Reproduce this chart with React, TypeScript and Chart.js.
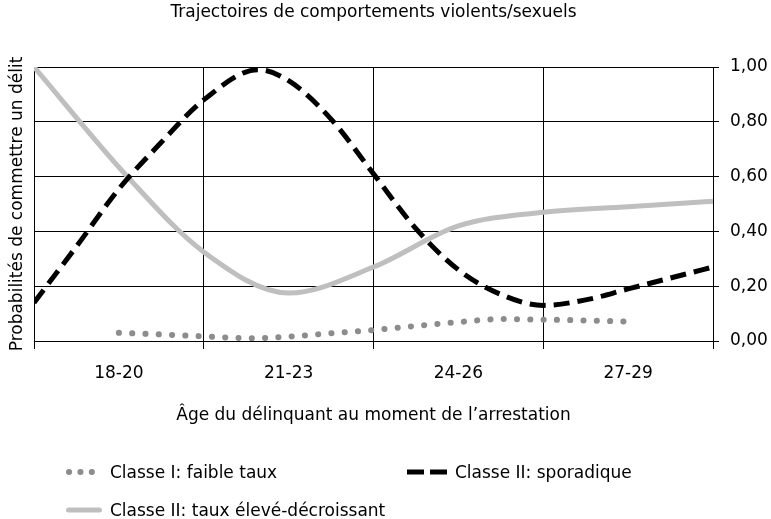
import React, { useEffect, useRef } from "react";
import { Chart, registerables } from "chart.js";

Chart.register(...registerables);

const FONT = '"DejaVu Sans", sans-serif';

const chartTitle = "Trajectoires de comportements violents/sexuels";
const xAxisTitle = "Âge du délinquant au moment de l’arrestation";
const yAxisTitle = "Probabilités de commettre un délit";
const ageGroups = ["18-20", "21-23", "24-26", "27-29"];
const yTickValues = [0, 0.2, 0.4, 0.6, 0.8, 1.0];
const seriesNames = [
  "Classe I: faible taux",
  "Classe II: sporadique",
  "Classe II: taux élevé-décroissant",
];

// positions along the age axis in age-group units (0 = start of 18-20, 4 = end of 27-29)
const faibleAt = [0.5, 0.75, 1.0, 1.28, 1.5, 1.75, 2.0, 2.25, 2.5, 2.75, 3.0, 3.25, 3.5];
const faibleTaux = [0.03, 0.024, 0.017, 0.01, 0.016, 0.028, 0.04, 0.055, 0.069, 0.08, 0.078, 0.075, 0.071];

const sporadiqueAt = [0, 0.25, 0.5, 0.75, 1.0, 1.32, 1.5, 1.75, 2.0, 2.25, 2.5, 2.75, 3.0, 3.25, 3.5, 3.75, 4.0];
const sporadique = [0.14, 0.345, 0.555, 0.725, 0.88, 0.99, 0.95, 0.81, 0.61, 0.41, 0.26, 0.17, 0.13, 0.15, 0.19, 0.23, 0.27];

const eleveAt = [0, 0.55, 1.0, 1.5, 2.0, 2.5, 3.0, 3.5, 4.0];
const eleveDecroissant = [1.0, 0.6, 0.325, 0.175, 0.27, 0.42, 0.47, 0.49, 0.51];

const toPoints = (xs: number[], ys: number[]) => xs.map((x, i) => ({ x, y: ys[i] }));

function LegendSymbol({ kind }: { kind: string }) {
  if (kind === "dots") {
    return (
      <svg width={40} height={20} style={{ display: "block" }}>
        <line x1={3} y1={10} x2={37} y2={10} stroke="#8c8c8c" strokeWidth={6} strokeLinecap="round" strokeDasharray="0.1 11.3" />
      </svg>
    );
  }
  if (kind === "dash") {
    return (
      <svg width={40} height={20} style={{ display: "block" }}>
        <line x1={0} y1={10} x2={40} y2={10} stroke="#000" strokeWidth={5} strokeDasharray="17 6" />
      </svg>
    );
  }
  return (
    <svg width={40} height={20} style={{ display: "block" }}>
      <line x1={2.5} y1={10} x2={33.5} y2={10} stroke="#bfbfbf" strokeWidth={5} strokeLinecap="round" />
    </svg>
  );
}

const legendLayout = [
  { name: seriesNames[0], kind: "dots", left: 66, top: 462, gap: 4 },
  { name: seriesNames[1], kind: "dash", left: 407, top: 462, gap: 8 },
  { name: seriesNames[2], kind: "solid", left: 66, top: 500, gap: 4 },
];

export default function App() {
  const ref = useRef<HTMLCanvasElement>(null);

  useEffect(() => {
    const canvas = ref.current;
    if (!canvas) return;
    const font = { family: FONT, size: 17 };
    const chart = new Chart(canvas, {
      type: "line",
      data: {
        labels: ageGroups,
        datasets: [
          {
            label: seriesNames[0],
            data: toPoints(faibleAt, faibleTaux),
            xAxisID: "xv",
            yAxisID: "y",
            borderColor: "#8c8c8c",
            borderWidth: 6,
            borderDash: [0.1, 13.2],
            borderCapStyle: "round",
            pointRadius: 0,
            cubicInterpolationMode: "monotone",
            fill: false,
          },
          {
            label: seriesNames[1],
            data: toPoints(sporadiqueAt, sporadique),
            xAxisID: "xv",
            yAxisID: "y",
            borderColor: "#000000",
            borderWidth: 5,
            borderDash: [16, 8],
            pointRadius: 0,
            cubicInterpolationMode: "monotone",
            fill: false,
          },
          {
            label: seriesNames[2],
            data: toPoints(eleveAt, eleveDecroissant),
            xAxisID: "xv",
            yAxisID: "y",
            borderColor: "#bfbfbf",
            borderWidth: 5,
            pointRadius: 0,
            cubicInterpolationMode: "monotone",
            fill: false,
          },
        ],
      },
      options: {
        responsive: false,
        animation: false,
        color: "#000",
        font,
        layout: { padding: { left: 5.6, right: 3.2, top: 0, bottom: 92.8 } },
        plugins: {
          legend: { display: false },
          tooltip: { enabled: false },
          title: {
            display: true,
            text: chartTitle,
            fullSize: false,
            color: "#000",
            font: { ...font, weight: "normal" },
            padding: { top: 2.2, bottom: 44.4 },
          },
        },
        scales: {
          x: {
            type: "category",
            position: "bottom",
            offset: true,
            grid: { offset: true, color: "#000", lineWidth: 1, tickLength: 8, drawOnChartArea: true },
            border: { display: true, color: "#000" },
            ticks: { color: "#000", font, padding: 14.8, maxRotation: 0 },
            title: { display: true, text: xAxisTitle, color: "#000", font, padding: { top: 19.6, bottom: 0 } },
            afterFit: (axis: any) => {
              axis.height = 85.2;
            },
          },
          xv: { type: "linear", display: false, min: 0, max: 4 },
          y: {
            type: "linear",
            position: "right",
            min: 0,
            max: 1,
            afterBuildTicks: (axis: any) => {
              axis.ticks = yTickValues.map((v) => ({ value: v }));
            },
            afterFit: (axis: any) => {
              axis.width = 54.8;
            },
            grid: { color: "#000", lineWidth: 1, tickLength: 6 },
            border: { display: true, color: "#000" },
            ticks: {
              color: "#000",
              font,
              padding: 11,
              callback: (v: any) => Number(v).toFixed(2).replace(".", ","),
            },
          },
          yL: {
            type: "linear",
            position: "left",
            min: 0,
            max: 1,
            grid: { display: false, drawTicks: false, drawOnChartArea: false },
            border: { display: false },
            ticks: { display: false },
            title: { display: true, text: yAxisTitle, color: "#000", font, padding: { top: 2, bottom: 6 } },
            afterFit: (axis: any) => {
              axis.width = 28.4;
            },
          },
        },
      } as any,
    });
    return () => chart.destroy();
  }, []);

  return (
    <div style={{ position: "absolute", left: 0, top: 0, width: 771, height: 519, background: "#fff", fontFamily: FONT }}>
      <canvas ref={ref} width={771} height={519} style={{ display: "block", width: 771, height: 519 }} />
      {legendLayout.map((item) => (
        <div
          key={item.name}
          style={{
            position: "absolute",
            left: item.left,
            top: item.top,
            height: 20,
            display: "flex",
            alignItems: "center",
            fontSize: 17,
            lineHeight: "20px",
            color: "#000",
            whiteSpace: "nowrap",
          }}
        >
          <LegendSymbol kind={item.kind} />
          <span style={{ marginLeft: item.gap }}>{item.name}</span>
        </div>
      ))}
    </div>
  );
}
